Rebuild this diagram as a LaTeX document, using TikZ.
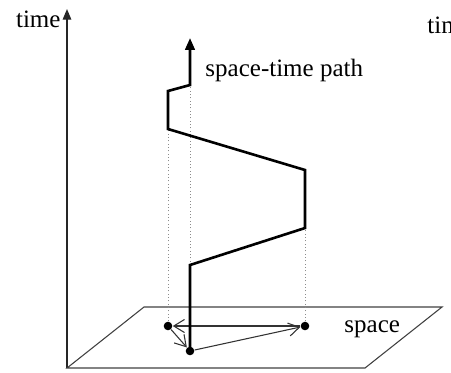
\documentclass[tikz,border=0pt]{standalone}
\usepackage{fontspec}
\setmainfont{Liberation Serif}
\usetikzlibrary{arrows.meta}

\begin{document}
\begin{tikzpicture}[x=0.42pt, y=-0.42pt,
    axis/.style={line width=0.6pt, black!85, -{Triangle[length=4.5pt, width=3.6pt]}},
    plane/.style={line width=0.45pt, black!75},
    worldline/.style={line width=1.1pt, line join=miter, -{Triangle[length=5pt, width=4pt]}},
    proj/.style={densely dotted, line width=0.4pt, black!45},
    move/.style={line width=0.45pt, black!80, -{Straight Barb[length=4.5pt, width=5.5pt]}},
    event/.style={circle, fill=black, inner sep=0pt, minimum size=3.6pt},
    lbl/.style={font=\fontsize{10.5}{12}\selectfont, inner sep=0pt}]
    \clip (0,0) rectangle (451,372);

    % time axis
    \coordinate (origin) at (67,368);
    \coordinate (ttop) at (67,9);
    \draw[axis] (origin) -- (ttop);
    \node (timelbl) [lbl, anchor=base east] at (61,27) {time};
    \node (timecut) [lbl, anchor=base west] at (427,33) {time};

    % space plane
    \coordinate (pl1) at (365,368);
    \coordinate (pl2) at (442,307);
    \coordinate (pl3) at (144,307);
    \draw[plane] (origin) -- (pl1) -- (pl2) -- (pl3) -- cycle;
    \node (spacelbl) [lbl, anchor=base west] at (344,332) {space};

    % events in space
    \node (evA) [event] at (168,326) {};
    \node (evB) [event] at (305,326) {};
    \node (evC) [event] at (190,351) {};

    % corners of the space-time path
    \coordinate (w1) at (190,265);
    \coordinate (w2) at (305,228);
    \coordinate (w3) at (305,170);
    \coordinate (w4) at (168,129);
    \coordinate (w5) at (168,91);
    \coordinate (w6) at (190,85);
    \coordinate (w7) at (190,38);

    % projections
    \draw[proj] (evA) -- (w4);
    \draw[proj] (evB) -- (w2);
    \draw[proj] (w1) -- (w6);

    % moves in space
    \draw[move] (evC) -- (evB);
    \draw[move] (evB) -- (evA);
    \draw[move] (evA) -- (evC);

    % space-time path
    \draw[worldline] (evC.center) -- (w1) -- (w2) -- (w3) -- (w4) -- (w5) -- (w6) -- (w7);
    \node (pathlbl) [lbl, anchor=base west] at (205,76) {space-time path};
\end{tikzpicture}
\end{document}
